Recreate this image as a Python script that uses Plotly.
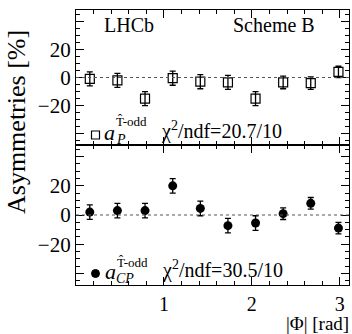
import numpy as np
import plotly.graph_objects as go
from plotly.subplots import make_subplots

# ---- data ----
phi_centers = [0.157, 0.471, 0.785, 1.100, 1.414, 1.728, 2.042, 2.356, 2.670, 2.985]
aP = [-1.0, -2.0, -15.0, -0.5, -3.0, -3.5, -15.0, -3.5, -4.0, 4.0]
aP_err = [5.0, 5.0, 5.0, 5.0, 5.0, 5.0, 5.0, 4.5, 4.5, 4.0]
aCP = [2.0, 3.0, 3.0, 20.0, 4.5, -7.3, -5.5, 0.9, 8.0, -9.0]
aCP_err = [5.0, 5.0, 5.0, 5.0, 5.0, 5.0, 5.0, 4.0, 4.0, 4.0]
y_tickvals = [-40, -20, 0, 20, 40]
y_ticktext = ["", "\u221220", "0", "20", ""]
x_tickvals = [1, 2, 3]
chi2_P = "\u03c7<sup>2</sup>/ndf=20.7/10"
chi2_CP = "\u03c7<sup>2</sup>/ndf=30.5/10"

FONT = "Liberation Serif, Times New Roman, serif"
W, H = 352, 334
L, R, T, B = 76, 3, 10, 49
SPLIT = 145  # pixel y of panel boundary
PW, PH = W - L - R, H - T - B

def px(x):
    return (x - L) / PW

def py(y):
    return (H - B - y) / PH

split_frac = py(SPLIT)

fig = make_subplots(rows=2, cols=1, shared_xaxes=True, vertical_spacing=0,
                    row_heights=[1 - split_frac, split_frac])

fig.add_trace(go.Scatter(
    x=phi_centers, y=aP, mode="markers",
    marker=dict(symbol="square-open", size=9, color="black", line=dict(width=1.2, color="black")),
    error_y=dict(type="data", array=aP_err, color="black", thickness=1.3, width=3),
    showlegend=False), row=1, col=1)

fig.add_trace(go.Scatter(
    x=phi_centers, y=aCP, mode="markers",
    marker=dict(symbol="circle", size=9, color="black"),
    error_y=dict(type="data", array=aCP_err, color="black", thickness=1.3, width=3),
    showlegend=False), row=2, col=1)

xr = [0, 3.105]
yr = [-48, 48]
for r in (1, 2):
    fig.update_xaxes(range=xr, tickvals=x_tickvals, ticks="inside", ticklen=8, tickwidth=1,
                     tickcolor="black", showline=True, linecolor="black", linewidth=1.2,
                     mirror="ticks", showgrid=False, zeroline=False, ticklabelstandoff=1,
                     minor=dict(dtick=0.2, tick0=0, ticks="inside", ticklen=4, tickcolor="black", showgrid=False),
                     tickfont=dict(family=FONT, size=20, color="black"),
                     showticklabels=(r == 2), row=r, col=1)
    fig.update_yaxes(range=yr, tickvals=y_tickvals, ticktext=y_ticktext, ticks="inside", ticklen=8,
                     tickwidth=1, tickcolor="black", showline=True, linecolor="black", linewidth=1.2,
                     mirror="ticks", showgrid=False, zeroline=False,
                     minor=dict(dtick=5, tick0=0, ticks="inside", ticklen=4, tickcolor="black", showgrid=False),
                     tickfont=dict(family=FONT, size=21, color="black"), row=r, col=1)
    fig.add_hline(y=0, line=dict(color="#555555", width=1.2, dash="dot"), row=r, col=1)

ann = []
def A(text, x, y, size, xanchor="left", yanchor="middle", italic=False, angle=0):
    ann.append(dict(text=text, xref="paper", yref="paper", x=px(x), y=py(y),
                    xanchor=xanchor, yanchor=yanchor, showarrow=False, textangle=angle,
                    font=dict(family=FONT, size=size, color="black",
                              style="italic" if italic else "normal")))

A("LHCb", 102, 25, 20)
A("Scheme B", 231, 25, 20)
A("Asymmetries [%]", 17, 122, 26, xanchor="center", angle=-90)
A("|\u03a6| [rad]", 351, 323, 19, xanchor="right")

# legend-like labels, top panel
A("a", 102, 132, 22, italic=True)
A("T\u0302-odd", 114, 122, 13)
A("P", 114, 139, 14, italic=True)
A(chi2_P, 159, 130, 20)
# bottom panel
A("a", 103, 271, 22, italic=True)
A("T\u0302-odd", 115, 262, 13)
A("CP", 114, 278, 14, italic=True)
A(chi2_CP, 160, 269, 20)

fig.update_layout(annotations=ann)

# legend symbols
fig.add_shape(type="rect", xref="paper", yref="paper",
              x0=px(91.5), x1=px(99.5), y0=py(139), y1=py(131),
              line=dict(color="black", width=1.2), fillcolor="white")
fig.add_shape(type="circle", xref="paper", yref="paper",
              x0=px(91.5), x1=px(99.5), y0=py(277.5), y1=py(269.5),
              line=dict(color="black", width=1), fillcolor="black")

fig.update_layout(width=W, height=H, margin=dict(l=L, r=R, t=T, b=B),
                  paper_bgcolor="white", plot_bgcolor="white",
                  font=dict(family=FONT, color="black"))

fig.write_html("out.html", config={"displayModeBar": False},
               post_script="document.body.style.margin='0';document.body.style.padding='0';")
